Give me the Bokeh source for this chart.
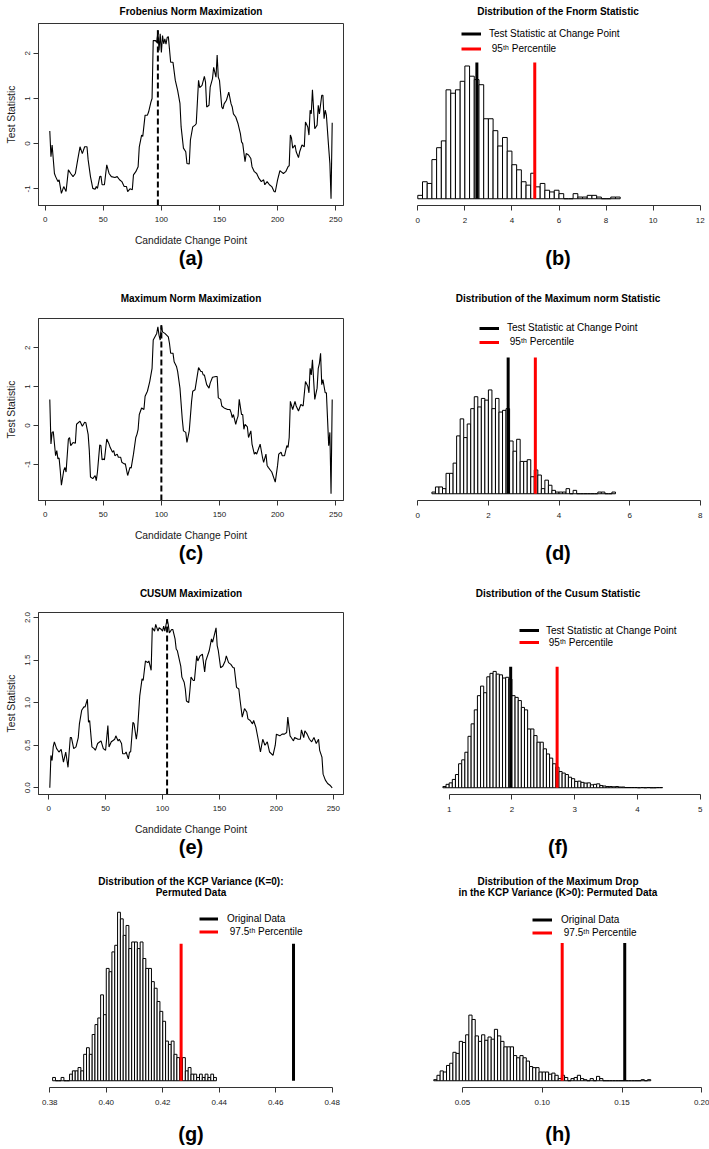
import numpy as np
from bokeh.plotting import figure
from bokeh.layouts import column, row
from bokeh.models import (Range1d, FixedTicker, Legend, LegendItem, LinearAxis,
                          PrintfTickFormatter)
from bokeh.core.properties import value
from bokeh.embed import file_html
from bokeh.resources import INLINE

FONT = "Liberation Sans"

# ====================== data ======================
# (candidate change point, test statistic)
frob_series = [
    (4, 0.28), (5, -0.29), (6, -0.03), (8, -0.66), (9, -0.73), (11, -0.84), (12, -0.80), (14, -1.10), (16, -0.95), (18, -1.06),
    (20, -0.58), (22, -0.66), (24, -0.73), (26, -0.66), (28, -0.36), (30, -0.07), (32, -0.22), (34, -0.07), (36, -0.07), (37, -0.36),
    (39, -0.73), (41, -0.99), (43, -1.01), (44, -0.95), (45, -0.99), (47, -0.73), (48, -0.72), (49, -0.91), (51, -0.91), (53, -0.47),
    (55, -0.66), (57, -0.73), (60, -0.75), (62, -0.73), (64, -0.80), (66, -0.84), (68, -0.95), (70, -0.95), (71, -1.06), (73, -1.00),
    (75, -1.02), (76, -0.69), (78, -0.62), (80, -0.51), (81, -0.07), (83, 0.19), (84, 0.16), (86, 0.63), (88, 0.63), (89, 0.70),
    (91, 0.92), (92, 1.00), (93, 2.28), (95, 2.28), (96, 2.24), (97, 2.51), (98, 2.06), (99, 2.43), (100, 2.02), (101, 2.39),
    (102, 2.21), (103, 2.32), (104, 2.20), (105, 2.35), (106, 2.37), (108, 1.80), (110, 1.80), (112, 1.40), (114, 1.18), (116, 0.89),
    (117, 0.37), (119, -0.10), (121, -0.18), (122, -0.44), (124, -0.45), (125, 0.08), (127, 0.37), (129, 0.41), (130, 0.44), (132, 1.40),
    (133, 1.24), (135, 1.29), (137, 1.49), (138, 1.36), (139, 0.81), (141, 0.85), (142, 1.25), (144, 1.44), (145, 1.69), (147, 1.47),
    (148, 1.96), (149, 1.47), (150, 1.40), (152, 0.81), (153, 0.77), (154, 0.88), (156, 0.96), (158, 1.14), (160, 0.88), (161, 0.81),
    (162, 0.66), (164, 0.59), (166, 0.44), (168, 0.22), (169, 0.04), (170, 0.00), (172, -0.40), (173, -0.22), (175, -0.25), (177, -0.33),
    (178, -0.51), (180, -0.62), (182, -0.66), (184, -0.77), (186, -0.84), (188, -0.80), (189, -0.91), (191, -0.84), (193, -0.91), (195, -0.95),
    (197, -1.06), (198, -1.07), (200, -0.80), (202, -0.60), (203, -0.62), (205, -0.66), (207, -0.62), (209, -0.51), (210, -0.49), (211, 0.19),
    (212, 0.12), (213, -0.10), (215, -0.03), (216, -0.18), (218, -0.31), (219, -0.18), (221, -0.03), (223, -0.07), (224, 0.48), (226, 0.37),
    (227, 0.19), (228, 0.74), (229, 0.66), (230, 1.19), (232, 0.33), (234, 0.41), (235, 0.85), (236, 0.66), (238, 1.07), (239, 1.07),
    (240, 0.55), (241, 0.74), (242, 0.63), (244, -0.10), (245, -0.44), (246, -1.22), (247, 0.46)]

maxnorm_series = [
    (4, 0.67), (5, -0.48), (6, -0.18), (7, -0.16), (9, -0.78), (10, -0.65), (11, -0.86), (12, -0.84), (13, -1.16), (14, -1.54),
    (16, -1.16), (17, -1.08), (18, -1.20), (20, -0.35), (21, -0.31), (22, -0.52), (23, -0.48), (24, -0.44), (26, -0.46), (27, 0.03),
    (30, 0.11), (32, -0.02), (34, 0.08), (35, 0.07), (37, -0.23), (38, -0.65), (39, -1.33), (41, -1.37), (43, -1.29), (44, -1.42),
    (45, -1.20), (47, -0.50), (48, -0.52), (49, -0.89), (50, -0.86), (51, -0.89), (53, -0.35), (55, -0.48), (56, -0.57), (58, -0.69),
    (59, -0.65), (60, -0.78), (62, -0.74), (63, -0.82), (65, -0.82), (66, -0.95), (68, -0.99), (69, -0.99), (71, -1.29), (73, -1.08),
    (74, -1.10), (76, -0.74), (78, -0.31), (79, -0.23), (80, -0.10), (81, 0.28), (83, 0.45), (85, 0.41), (86, 0.75), (88, 0.88),
    (90, 1.13), (92, 1.47), (93, 2.20), (96, 2.37), (97, 2.54), (98, 2.32), (99, 2.20), (100, 2.58), (101, 2.41), (103, 2.37),
    (106, 2.28), (107, 2.11), (108, 1.86), (110, 1.86), (111, 1.64), (113, 1.52), (114, 1.39), (116, 0.96), (118, 0.16), (119, -0.14),
    (121, -0.18), (122, -0.44), (124, -0.14), (126, 0.62), (127, 0.88), (129, 0.92), (132, 1.49), (134, 1.39), (135, 1.39), (136, 1.30),
    (137, 1.30), (139, 1.05), (141, 0.96), (142, 1.09), (144, 1.24), (147, 1.26), (148, 1.26), (149, 0.71), (151, 0.67), (152, 0.50),
    (154, 0.45), (157, 0.41), (159, 0.41), (160, 0.33), (161, 0.20), (162, 0.28), (164, 0.03), (165, 0.15), (166, 0.24), (167, 0.67),
    (169, 0.28), (170, 0.28), (171, -0.10), (172, 0.03), (174, -0.04), (175, -0.31), (177, -0.14), (178, -0.48), (180, -0.74), (181, -0.69),
    (182, -0.74), (184, -0.57), (185, -0.48), (187, -0.82), (188, -0.95), (190, -0.74), (191, -1.03), (192, -1.08), (194, -1.16), (195, -1.20),
    (198, -1.46), (200, -1.03), (201, -0.74), (203, -0.69), (204, -0.78), (206, -0.78), (208, -0.52), (209, -0.57), (210, -0.31), (211, 0.62),
    (213, 0.41), (215, 0.62), (216, 0.50), (218, 0.37), (220, 0.54), (222, 0.50), (224, 1.13), (226, 1.01), (227, 0.84), (228, 1.47),
    (229, 1.30), (230, 1.69), (232, 0.67), (234, 0.96), (235, 1.47), (236, 1.60), (237, 1.86), (238, 1.05), (239, 1.18), (241, 0.84),
    (242, 0.84), (244, -0.52), (245, -0.18), (246, -1.76), (247, 0.67)]

cusum_series = [
    (1, 0.00), (2, 0.38), (3, 0.32), (4, 0.48), (5, 0.54), (7, 0.46), (8, 0.44), (9, 0.42), (11, 0.45), (13, 0.30),
    (15, 0.42), (17, 0.24), (19, 0.59), (20, 0.59), (22, 0.46), (24, 0.48), (26, 0.59), (27, 0.75), (29, 0.91), (31, 0.95),
    (32, 0.95), (34, 1.04), (35, 0.77), (36, 0.79), (38, 0.48), (40, 0.46), (41, 0.44), (43, 0.52), (45, 0.54), (46, 0.55),
    (48, 0.46), (50, 0.44), (52, 0.73), (53, 0.48), (55, 0.54), (56, 0.55), (58, 0.57), (59, 0.61), (61, 0.55), (62, 0.57),
    (64, 0.52), (65, 0.40), (67, 0.40), (68, 0.42), (70, 0.34), (71, 0.42), (72, 0.42), (74, 0.77), (75, 0.75), (77, 0.57),
    (78, 0.67), (80, 1.08), (82, 1.28), (83, 1.26), (85, 1.49), (87, 1.47), (88, 1.49), (90, 1.38), (91, 1.88), (93, 1.84),
    (94, 1.92), (96, 1.84), (97, 1.88), (99, 1.86), (100, 1.84), (101, 1.90), (102, 1.84), (104, 1.98), (105, 1.92), (106, 1.82),
    (108, 1.86), (109, 1.86), (111, 1.75), (112, 1.63), (113, 1.61), (114, 1.55), (116, 1.43), (117, 1.30), (119, 1.24), (120, 1.16),
    (121, 1.02), (123, 1.00), (124, 1.14), (125, 1.30), (127, 1.26), (128, 1.26), (130, 1.55), (131, 1.49), (133, 1.55), (135, 1.57),
    (137, 1.36), (138, 1.49), (141, 1.61), (143, 1.75), (144, 1.71), (147, 1.88), (148, 1.67), (149, 1.61), (151, 1.41), (153, 1.43),
    (155, 1.49), (156, 1.55), (158, 1.47), (160, 1.45), (162, 1.41), (163, 1.41), (165, 1.18), (167, 1.16), (168, 1.04), (170, 0.83),
    (172, 0.93), (174, 0.89), (175, 0.81), (177, 0.79), (179, 0.75), (180, 0.79), (182, 0.71), (184, 0.57), (186, 0.42), (188, 0.57),
    (190, 0.50), (192, 0.54), (194, 0.42), (197, 0.38), (199, 0.50), (200, 0.63), (203, 0.61), (205, 0.63), (207, 0.63), (209, 0.65),
    (210, 0.83), (212, 0.61), (213, 0.59), (215, 0.55), (216, 0.59), (219, 0.57), (221, 0.57), (222, 0.68), (224, 0.59), (225, 0.67),
    (227, 0.63), (229, 0.57), (231, 0.54), (233, 0.59), (235, 0.52), (237, 0.57), (238, 0.44), (240, 0.36), (241, 0.16), (243, 0.09),
    (245, 0.05), (247, 0.03), (249, 0.00)]

# histogram (b): Fnorm statistic
fnorm_bin_start, fnorm_bin_width = 0.0, 0.2
fnorm_counts = [2, 10, 9, 23, 30, 34, 64, 62, 64, 69, 78, 72, 70, 67, 47, 47, 40, 31, 36, 28,
                20, 17, 10, 8, 15, 7, 9, 5, 4, 5, 3, 0, 0, 3, 1, 1, 2, 2, 1, 0, 0, 1, 1]
fnorm_stat, fnorm_p95, fnorm_line_top = 2.51, 4.97, 80
fnorm_xlim, fnorm_ylim_top = (0, 12), 99
fnorm_ticks = [0, 2, 4, 6, 8, 10, 12]

# histogram (d): maximum norm statistic
maxn_bin_start, maxn_bin_width = 0.4, 0.1
maxn_counts = [1, 4, 4, 3, 12, 12, 18, 34, 44, 33, 41, 50, 57, 51, 56, 55, 61, 50, 56, 48,
               49, 50, 31, 25, 32, 19, 19, 20, 10, 14, 11, 3, 8, 5, 2, 1, 1, 1, 3, 0,
               2, 0, 0, 0, 0, 0, 0, 1, 1, 0, 0, 1]
maxn_stat, maxn_p95, maxn_line_top = 2.56, 3.33, 80
maxn_xlim, maxn_ylim_top = (0, 8), 99
maxn_ticks = [0, 2, 4, 6, 8]

# histogram (f): CUSUM statistic
cusum_bin_start, cusum_bin_width = 0.90, 0.05
cusum_counts = [5, 14, 20, 34, 54, 98, 114, 145, 210, 261, 318, 376, 415, 388, 453, 467, 475, 464, 461, 448,
                451, 444, 376, 369, 356, 328, 318, 240, 240, 213, 186, 186, 159, 138, 121, 98, 84, 66, 60, 54,
                43, 37, 26, 27, 22, 19, 20, 12, 14, 16, 9, 7, 5, 5, 4, 5, 3, 3, 1, 1,
                1, 1, 0, 1, 0, 1, 0, 0, 1, 1]
cusum_stat, cusum_p95, cusum_line_top = 1.98, 2.72, 494
cusum_xlim, cusum_ylim_top = (0.5, 5), 688
cusum_ticks = [1, 2, 3, 4, 5]

# histogram (g): KCP variance (K=0), permuted data
kcpvar_bin_start, kcpvar_bin_width = 0.381, 0.001
kcpvar_counts = [1, 0, 0, 1, 0, 0, 2, 3, 3, 4, 3, 8, 10, 8, 14, 17, 19, 26, 20, 34,
                 33, 39, 41, 51, 49, 44, 47, 40, 42, 42, 40, 42, 37, 34, 34, 30, 28, 24, 21, 18,
                 12, 11, 12, 8, 7, 7, 7, 3, 4, 2, 2, 1, 2, 1, 2, 1, 2, 1]
kcpvar_orig, kcpvar_p975, kcpvar_line_top = 0.4663, 0.4265, 41.5
kcpvar_xlim, kcpvar_ylim_top = (0.38, 0.48), 51
kcpvar_ticks = [0.38, 0.40, 0.42, 0.44, 0.46, 0.48]

# histogram (h): maximum drop in KCP variance (K>0), permuted data
kcpdrop_bin_start, kcpdrop_bin_width = 0.032, 0.002
kcpdrop_counts = [1, 5, 9, 8, 14, 16, 26, 25, 36, 35, 42, 60, 56, 41, 36, 42, 37, 40, 38, 47,
                  41, 36, 31, 31, 31, 23, 21, 23, 21, 18, 13, 12, 12, 8, 8, 8, 6, 7, 5, 2,
                  5, 3, 0, 2, 3, 5, 2, 1, 0, 2, 0, 4, 2, 0, 0, 0, 0, 0, 0, 0,
                  0, 0, 0, 0, 0, 1, 0, 1]
kcpdrop_orig, kcpdrop_p975, kcpdrop_line_top = 0.1517, 0.1125, 126
kcpdrop_xlim, kcpdrop_ylim_top = (0.022, 0.199), 154
kcpdrop_ticks = [0.05, 0.10, 0.15, 0.20]

# ====================== layout ======================
LEFT_W, RIGHT_W = 364, 345
LEFT_BORDER = (38, 21)
RIGHT_BORDER = (42, 0)
REGION_W = 305
FRAME_H = 182
ROWS = [(273, 23, 68), (295, 45, 68), (294, 44, 68), (287, 43, 62)]  # height, top, bottom
AX = "#333333"


def pad(lo, hi, f=0.04):
    d = (hi - lo) * f
    return lo - d, hi + d


def new_fig(col, rowi, xr, yr, with_y):
    h, top, bottom = ROWS[rowi]
    w = LEFT_W if col == 0 else RIGHT_W
    bl, br = LEFT_BORDER if col == 0 else RIGHT_BORDER
    kw = {} if with_y else {"y_axis_location": None}
    p = figure(width=w, height=h, min_border_left=bl, min_border_right=br,
               min_border_top=top, min_border_bottom=bottom,
               x_range=Range1d(*xr), y_range=Range1d(*yr),
               output_backend="svg", toolbar_location=None, tools="", title=None, **kw)
    p.xgrid.visible = False
    p.ygrid.visible = False
    p.background_fill_color = "white"
    p.border_fill_color = "white"
    return p


def style_axis(ax, ticks, fmt, standoff):
    ax.ticker = FixedTicker(ticks=ticks)
    ax.formatter = PrintfTickFormatter(format=fmt)
    ax.axis_line_color = AX
    ax.major_tick_line_color = AX
    ax.major_tick_out = 5
    ax.major_tick_in = 0
    ax.minor_tick_line_color = None
    ax.major_label_text_font = FONT
    ax.major_label_text_font_size = "8px"
    ax.major_label_text_color = "#1a1a1a"
    ax.major_label_standoff = standoff


def add_text_axis(p, text, side, standoff, size):
    ax = LinearAxis(ticker=FixedTicker(ticks=[]), axis_label=text, axis_label_standoff=standoff,
                    axis_label_text_font=FONT, axis_label_text_font_size=size,
                    axis_label_text_font_style="bold", axis_label_text_color="black",
                    axis_line_color=None, major_tick_line_color=None, minor_tick_line_color=None,
                    major_tick_in=0, major_tick_out=0, minor_tick_in=0, minor_tick_out=0,
                    major_label_standoff=0)
    p.add_layout(ax, side)


TITLE_STANDOFF = [7, 15, 14]


def line_panel(rowi, series, title, letter, yticks, yfmt):
    t = np.array([a for a, _ in series], float)
    v = np.array([b for _, b in series], float)
    xr = pad(t.min(), t.max())
    yr = pad(v.min(), v.max())
    p = new_fig(0, rowi, xr, yr, True)
    p.outline_line_color = AX
    p.outline_line_width = 1
    p.line(t, v, line_color="black", line_width=1.1)
    k = int(np.argmax(v))
    p.segment(x0=[t[k]], y0=[yr[0]], x1=[t[k]], y1=[v[k]], line_color="black",
              line_width=2, line_dash="6 3")
    xa = p.xaxis[0]
    style_axis(xa, [0, 50, 100, 150, 200, 250], "%d", 6)
    xa.axis_label = "Candidate Change Point"
    xa.axis_label_standoff = 10
    xa.axis_label_text_font = FONT
    xa.axis_label_text_font_size = "10.3px"
    xa.axis_label_text_font_style = "normal"
    xa.axis_label_text_color = "#1a1a1a"
    ya = p.yaxis[0]
    style_axis(ya, yticks, yfmt, 3)
    ya.major_label_orientation = "vertical"
    ya.axis_label = "Test Statistic"
    ya.axis_label_standoff = 6
    ya.axis_label_text_font = FONT
    ya.axis_label_text_font_size = "10.3px"
    ya.axis_label_text_font_style = "normal"
    ya.axis_label_text_color = "#1a1a1a"
    add_text_axis(p, title, "above", TITLE_STANDOFF[rowi], "10px")
    add_text_axis(p, letter, "below", -2, "20px")
    return p


def hist_panel(col, rowi, counts, start, width, xlim, ytop, ticks, fmt,
               stat, pct, line_top, labels, leg, titles, letter, letter_standoff):
    lo, hi = pad(*xlim)
    fw = REGION_W if col == 0 else RIGHT_W - sum(RIGHT_BORDER)
    xr = (lo, lo + (hi - lo) * fw / REGION_W)
    yr = pad(0, ytop)
    p = new_fig(col, rowi, xr, yr, False)
    p.outline_line_color = None
    c = np.array(counts, float)
    left = start + width * np.arange(len(c))
    p.quad(left=left, right=left + width, bottom=0, top=c,
           fill_color="white", line_color="black", line_width=1)
    rb = p.segment(x0=[stat], y0=[0], x1=[stat], y1=[line_top], line_color="black", line_width=3)
    rr = p.segment(x0=[pct], y0=[0], x1=[pct], y1=[line_top], line_color="red", line_width=3)
    xa = p.xaxis[0]
    style_axis(xa, ticks, fmt, 7)
    xa.bounds = (ticks[0], ticks[-1])
    lx, top_off, row_h, gw, gs = leg
    legend = Legend(items=[LegendItem(label=value(labels[0]), renderers=[rb]),
                           LegendItem(label=value(labels[1]), renderers=[rr])],
                    location=(lx, FRAME_H - top_off - 2 * row_h), orientation="vertical",
                    padding=0, margin=0, spacing=0, glyph_width=gw, glyph_height=row_h,
                    label_height=row_h, label_standoff=gs, label_text_font=FONT,
                    label_text_font_size="10px", label_text_color="black",
                    border_line_color=None, background_fill_alpha=0)
    p.add_layout(legend)
    for text, so in titles:
        add_text_axis(p, text, "above", so, "10px")
    add_text_axis(p, letter, "below", letter_standoff, "20px")
    return p


STAT_LABELS = ("Test Statistic at Change Point", "\u00a095\u1d57\u02b0 Percentile")
ORIG_LABELS = ("Original Data", "\u00a097.5\u1d57\u02b0 Percentile")

pa = line_panel(0, frob_series, "Frobenius Norm Maximization", "(a)", [-1, 0, 1, 2], "%d")
pb = hist_panel(1, 0, fnorm_counts, fnorm_bin_start, fnorm_bin_width, fnorm_xlim, fnorm_ylim_top,
                fnorm_ticks, "%d", fnorm_stat, fnorm_p95, fnorm_line_top, STAT_LABELS,
                (55, 2.5, 15, 20, 8), [("Distribution of the Fnorm Statistic", 7)], "(b)", 21)
pc = line_panel(1, maxnorm_series, "Maximum Norm Maximization", "(c)", [-1, 0, 1, 2], "%d")
pd_ = hist_panel(1, 1, maxn_counts, maxn_bin_start, maxn_bin_width, maxn_xlim, maxn_ylim_top,
                 maxn_ticks, "%d", maxn_stat, maxn_p95, maxn_line_top, STAT_LABELS,
                 (73, 2.6, 14, 20, 8), [("Distribution of the Maximum norm Statistic", 15)], "(d)", 21)
pe = line_panel(2, cusum_series, "CUSUM Maximization", "(e)", [0, 0.5, 1, 1.5, 2], "%.1f")
pf = hist_panel(1, 2, cusum_counts, cusum_bin_start, cusum_bin_width, cusum_xlim, cusum_ylim_top,
                cusum_ticks, "%d", cusum_stat, cusum_p95, cusum_line_top, STAT_LABELS,
                (113, 12.3, 12, 20, 7), [("Distribution of the Cusum Statistic", 14)], "(f)", 21)
pg = hist_panel(0, 3, kcpvar_counts, kcpvar_bin_start, kcpvar_bin_width, kcpvar_xlim, kcpvar_ylim_top,
                kcpvar_ticks, "%.2f", kcpvar_orig, kcpvar_p975, kcpvar_line_top, ORIG_LABELS,
                (161, 6.8, 13, 19, 9),
                [("Permuted Data", 8), ("Distribution of the KCP Variance (K=0):", -3)], "(g)", 15)
ph = hist_panel(1, 3, kcpdrop_counts, kcpdrop_bin_start, kcpdrop_bin_width, kcpdrop_xlim, kcpdrop_ylim_top,
                kcpdrop_ticks, "%.2f", kcpdrop_orig, kcpdrop_p975, kcpdrop_line_top, ORIG_LABELS,
                (126, 7.5, 13, 20, 9),
                [("in the KCP Variance (K>0): Permuted Data", 8), ("Distribution of the Maximum Drop", -3)],
                "(h)", 15)

layout = column(row(pa, pb), row(pc, pd_), row(pe, pf), row(pg, ph))
html = file_html(layout, INLINE, title="Change point statistics")
open("out.html", "w").write(html)
